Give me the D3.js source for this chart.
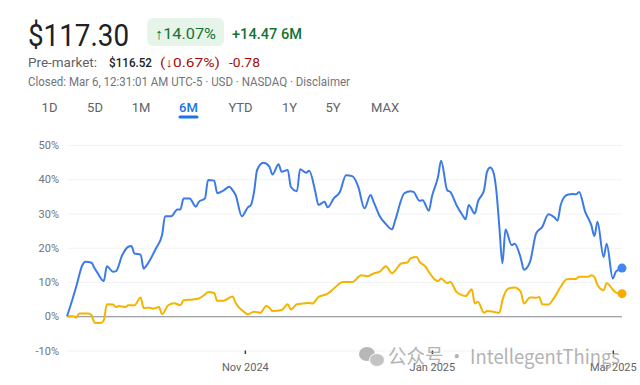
<!DOCTYPE html>
<html><head><meta charset="utf-8">
<script src="https://cdn.jsdelivr.net/npm/d3@7"></script>
<style>
html,body{margin:0;padding:0;background:#fff;}
svg{display:block;font-family:Roboto,"Noto Sans",Arial,sans-serif;}
</style></head>
<body>
<svg id="c" width="640" height="385"></svg>
<script>
// ---- data ----
const stockDates = ["2024-09-04","2024-09-05","2024-09-06","2024-09-07","2024-09-09","2024-09-10","2024-09-12","2024-09-13","2024-09-14","2024-09-16","2024-09-17","2024-09-19","2024-09-20","2024-09-22","2024-09-24","2024-09-25","2024-09-26","2024-09-28","2024-09-29","2024-09-30","2024-10-03","2024-10-05","2024-10-06","2024-10-08","2024-10-10","2024-10-11","2024-10-12","2024-10-14","2024-10-16","2024-10-17","2024-10-19","2024-10-20","2024-10-22","2024-10-23","2024-10-25","2024-10-27","2024-10-28","2024-10-29","2024-10-31","2024-11-02","2024-11-03","2024-11-04","2024-11-05","2024-11-07","2024-11-09","2024-11-10","2024-11-12","2024-11-13","2024-11-15","2024-11-16","2024-11-18","2024-11-19","2024-11-21","2024-11-22","2024-11-24","2024-11-25","2024-11-27","2024-11-28","2024-11-30","2024-12-02","2024-12-04","2024-12-06","2024-12-08","2024-12-10","2024-12-12","2024-12-13","2024-12-15","2024-12-17","2024-12-19","2024-12-20","2024-12-23","2024-12-25","2024-12-26","2024-12-28","2024-12-29","2024-12-31","2025-01-01","2025-01-03","2025-01-04","2025-01-06","2025-01-07","2025-01-09","2025-01-11","2025-01-12","2025-01-13","2025-01-15","2025-01-16","2025-01-18","2025-01-19","2025-01-20","2025-01-21","2025-01-22","2025-01-23","2025-01-24","2025-01-25","2025-01-27","2025-01-28","2025-01-30","2025-01-31","2025-02-02","2025-02-04","2025-02-06","2025-02-08","2025-02-10","2025-02-11","2025-02-12","2025-02-14","2025-02-16","2025-02-17","2025-02-18","2025-02-20","2025-02-22","2025-02-23","2025-02-24","2025-02-26","2025-02-27","2025-03-01","2025-03-02","2025-03-04"];
const stockValues = [0,2.7,5.6,8.6,14.9,15.9,15.6,14,12.6,10.3,14.6,13,13.2,17.8,20.3,20.5,18.3,18,13.9,14.9,19.8,23.7,29.2,29.2,31.2,31.2,34.4,34.4,32,33.4,34.4,39.8,39.6,35.9,36.7,37.8,36.8,35.4,29.2,31.8,32.5,36.3,42.7,44.8,43.7,41.4,44.4,42.2,42.7,37.8,36.5,42.9,41.9,42.5,36.3,32.5,33.4,31.8,34.4,36.3,41.2,40.9,37.8,31.5,35.4,33.4,29.2,26.9,25.4,27.9,35.9,36.5,36.3,33.7,33.9,30.8,34.9,40.7,45.4,36.8,36.3,32.5,29.5,28.3,32.5,30,33.4,36.8,42.2,43.4,42.2,36.8,26.1,15.4,25.3,20.8,21.2,16.9,13.6,15.9,24.2,26.1,29.8,28.8,27.9,32.5,35.4,35.7,35.6,36.3,30.5,26.6,23.4,27.6,17.3,21.2,11,13,14.07];

const indexDates = ["2024-09-04","2024-09-06","2024-09-07","2024-09-08","2024-09-11","2024-09-12","2024-09-13","2024-09-15","2024-09-16","2024-09-17","2024-09-19","2024-09-20","2024-09-21","2024-09-23","2024-09-24","2024-09-26","2024-09-28","2024-09-29","2024-10-01","2024-10-02","2024-10-04","2024-10-05","2024-10-07","2024-10-09","2024-10-11","2024-10-12","2024-10-15","2024-10-17","2024-10-19","2024-10-20","2024-10-22","2024-10-23","2024-10-25","2024-10-28","2024-10-29","2024-10-31","2024-11-02","2024-11-04","2024-11-06","2024-11-08","2024-11-09","2024-11-10","2024-11-13","2024-11-15","2024-11-16","2024-11-18","2024-11-20","2024-11-22","2024-11-23","2024-11-25","2024-11-28","2024-11-30","2024-12-03","2024-12-06","2024-12-09","2024-12-11","2024-12-13","2024-12-15","2024-12-17","2024-12-19","2024-12-20","2024-12-22","2024-12-24","2024-12-25","2024-12-27","2024-12-28","2024-12-30","2024-12-31","2025-01-02","2025-01-03","2025-01-04","2025-01-06","2025-01-07","2025-01-09","2025-01-11","2025-01-12","2025-01-14","2025-01-15","2025-01-16","2025-01-18","2025-01-19","2025-01-21","2025-01-23","2025-01-24","2025-01-26","2025-01-28","2025-01-30","2025-01-31","2025-02-02","2025-02-04","2025-02-05","2025-02-06","2025-02-08","2025-02-10","2025-02-12","2025-02-14","2025-02-17","2025-02-18","2025-02-21","2025-02-22","2025-02-23","2025-02-24","2025-02-26","2025-02-27","2025-03-01","2025-03-02","2025-03-04"];
const indexValues = [0,0,-0.4,0.8,0.8,0.3,-1.9,-2,-1.2,3.5,3.4,2.7,3,2.7,3.2,3.2,5.5,2.4,2.5,2.2,2.7,0.6,3.2,3.8,3.2,4.7,4.9,5.2,6.4,7.1,6.8,4.5,4.5,5.8,3.9,1.8,0.6,1.3,1,3,2.5,1.5,1.8,3.5,2,3.5,3.7,3.9,3.7,5.6,6.6,8.1,10,10,12,11.7,12.5,13,14.6,12.5,13.3,15.4,15.7,16.9,17.3,15.9,14.4,13,10.7,10.3,11,9.7,10,7.1,6.1,5.9,7.9,3.7,4.2,1,1.5,1.3,1,4.7,8.1,8.4,7.1,3.7,5.5,5.4,5.6,3.5,3.4,5.6,8.6,10.8,10.9,11.5,11.5,12,11.5,9.1,7.6,9.6,7.8,6.9,6.6];

const yTicks = [-10,0,10,20,30,40,50];
const xTickDates = ["2024-11-01","2025-01-01","2025-03-01"];
const tabs = ["1D","5D","1M","6M","YTD","1Y","5Y","MAX"];
const activeTab = "6M";

// ---- drawing ----
const svg = d3.select("#c");
const parse = d3.utcParse("%Y-%m-%d");

const x = d3.scaleUtc().domain([parse("2024-09-04"), parse("2025-03-04")]).range([67, 622]);
const y = d3.scaleLinear().domain([-10, 50]).range([350.5, 145]);

// header
svg.append("text").attr("x", 28).attr("y", 46).attr("font-size", 32).attr("fill", "#202124")
  .attr("textLength", 101).attr("lengthAdjust", "spacingAndGlyphs").text("$117.30");
svg.append("rect").attr("x", 147).attr("y", 18).attr("width", 77).attr("height", 28).attr("rx", 6).attr("fill", "#e6f4ea");
svg.append("text").attr("x", 155).attr("y", 38.5).attr("font-size", 15).attr("fill", "#137333")
  .attr("textLength", 61).attr("lengthAdjust", "spacingAndGlyphs").text("\u219114.07%");
svg.append("text").attr("x", 232).attr("y", 38.5).attr("font-size", 15).attr("font-weight", 500).attr("fill", "#137333")
  .attr("textLength", 70).attr("lengthAdjust", "spacingAndGlyphs").text("+14.47 6M");

svg.append("text").attr("x", 28).attr("y", 66.5).attr("font-size", 13).attr("fill", "#5f6368")
  .attr("textLength", 69).attr("lengthAdjust", "spacingAndGlyphs").text("Pre-market:");
svg.append("text").attr("x", 109).attr("y", 66.5).attr("font-size", 13).attr("font-weight", 500).attr("fill", "#202124")
  .attr("textLength", 43).attr("lengthAdjust", "spacingAndGlyphs").text("$116.52");
svg.append("text").attr("x", 160).attr("y", 66.5).attr("font-size", 13).attr("fill", "#a50e0e")
  .attr("textLength", 60).attr("lengthAdjust", "spacingAndGlyphs").text("(\u21930.67%)");
svg.append("text").attr("x", 229).attr("y", 66.5).attr("font-size", 13).attr("fill", "#a50e0e")
  .attr("textLength", 31).attr("lengthAdjust", "spacingAndGlyphs").text("-0.78");

svg.append("text").attr("x", 28).attr("y", 86).attr("font-size", 12).attr("fill", "#70757a")
  .attr("textLength", 322).attr("lengthAdjust", "spacingAndGlyphs")
  .text("Closed: Mar 6, 12:31:01 AM UTC-5 \u00b7 USD \u00b7 NASDAQ \u00b7 Disclaimer");

// tabs
const tabCenters = {"1D":49.5,"5D":95,"1M":141,"6M":188.5,"YTD":240.5,"1Y":289.5,"5Y":333,"MAX":385};
svg.append("g").selectAll("text").data(tabs).join("text")
  .attr("x", d => tabCenters[d])
  .attr("y", 111.5).attr("text-anchor", "middle").attr("font-size", 13)
  .attr("fill", d => d === activeTab ? "#1a73e8" : "#5f6368")
  .attr("font-weight", d => d === activeTab ? 500 : 400)
  .text(d => d);
svg.append("rect").attr("x", tabCenters[activeTab] - 10).attr("y", 115.5).attr("width", 20).attr("height", 3)
  .attr("rx", 1.5).attr("fill", "#1a73e8");

// grid + y labels
const gGrid = svg.append("g").attr("transform", "translate(67,0)")
  .call(d3.axisLeft(y).tickValues(yTicks).tickSize(-(622 - 67)).tickPadding(8).tickFormat(d => d + "%"));
gGrid.select(".domain").remove();
gGrid.selectAll(".tick line").attr("stroke", d => d === 0 ? "#80868b" : "#f1f3f4").attr("stroke-width", 1);
gGrid.selectAll(".tick text").attr("fill", "#70757a").attr("font-size", 11).attr("font-family", "Roboto, sans-serif");

// x axis
const gx = svg.append("g").attr("transform", `translate(0,${y(-10)})`)
  .call(d3.axisBottom(x).tickValues(xTickDates.map(parse)).tickSize(3.5).tickPadding(9).tickFormat(d3.utcFormat("%b %Y")));
gx.select(".domain").remove();
gx.selectAll(".tick line").attr("stroke", "#3c4043").attr("stroke-width", 1.5);
gx.selectAll(".tick text").attr("fill", "#5f6368").attr("font-size", 11).attr("font-family", "Roboto, sans-serif");

// lines
const stock = stockDates.map((d, i) => ({date: parse(d), v: stockValues[i]}));
const index = indexDates.map((d, i) => ({date: parse(d), v: indexValues[i]}));
const line = d3.line().x(d => x(d.date)).y(d => y(d.v)).curve(d3.curveMonotoneX);

svg.append("path").datum(index).attr("d", line).attr("fill", "none")
  .attr("stroke", "#f4b400").attr("stroke-width", 2).attr("stroke-linejoin", "round");
svg.append("path").datum(stock).attr("d", line).attr("fill", "none")
  .attr("stroke", "#3c7be6").attr("stroke-width", 2).attr("stroke-linejoin", "round");

const lastS = stock[stock.length - 1], lastI = index[index.length - 1];
svg.append("circle").attr("cx", x(lastS.date)).attr("cy", y(lastS.v)).attr("r", 4.5).attr("fill", "#4285f4");
svg.append("circle").attr("cx", x(lastI.date)).attr("cy", y(lastI.v)).attr("r", 4.5).attr("fill", "#f9ab00");

// watermark
const wm = svg.append("g").attr("opacity", 0.75);
wm.append("ellipse").attr("cx", 367).attr("cy", 354).attr("rx", 8).attr("ry", 7).attr("fill", "#a0a0a0");
wm.append("ellipse").attr("cx", 377).attr("cy", 360).attr("rx", 7.5).attr("ry", 6.5).attr("fill", "#b0b0b0").attr("stroke", "#fff").attr("stroke-width", 1);
wm.append("text").attr("x", 388).attr("y", 364).attr("font-size", 20).attr("fill", "#9a9a9a")
  .attr("font-family", "'Noto Sans CJK SC', 'Noto Sans', sans-serif")
  .attr("textLength", 232).attr("lengthAdjust", "spacingAndGlyphs")
  .text("\u516c\u4f17\u53f7 \u00b7 IntellegentThings");
</script>
</body></html>
